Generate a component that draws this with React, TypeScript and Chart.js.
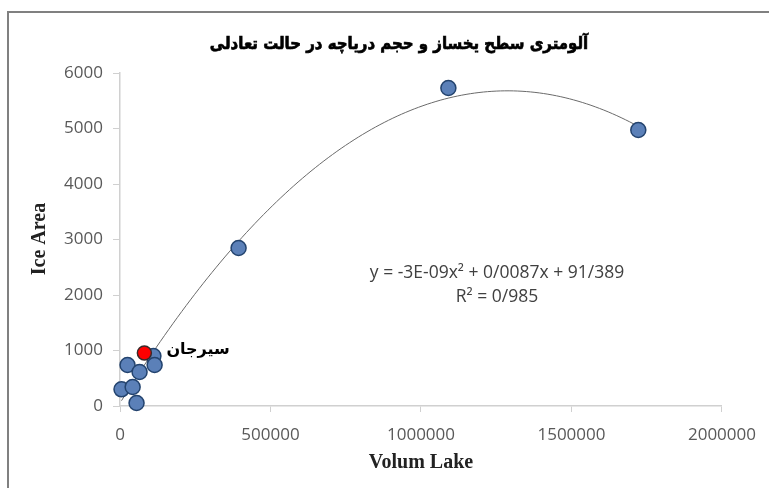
import React, { useEffect, useRef } from "react";
import { Chart, registerables } from "chart.js";

Chart.register(...registerables);

// Lake volume (x) and glacier ice area (y) for the surveyed basins
const lakeVolume = [5000, 25000, 42000, 55000, 65000, 111000, 115000, 394000, 1091000, 1722000];
const iceArea = [300, 739, 342, 54, 613, 900, 739, 2847, 5730, 4973];

// Highlighted basin: Sirjan
const sirjanVolume = [81000];
const sirjanArea = [955];
const sirjanLabel = "سیرجان";

const chartTitle = "آلومتری سطح یخساز و حجم دریاچه در حالت تعادلی";
const xTitle = "Volum Lake";
const yTitle = "Ice Area";
const equationLines = ["y = -3E-09x² + 0/0087x + 91/389", "R² = 0/985"];

const xTicks = [0, 500000, 1000000, 1500000, 2000000];
const yTicks = [0, 1000, 2000, 3000, 4000, 5000, 6000];

// Least-squares quadratic through all points (x in millions for stability)
function fitQuadratic(xs: number[], ys: number[]) {
  const s = [0, 0, 0, 0, 0];
  const t = [0, 0, 0];
  xs.forEach((xv, i) => {
    const x = xv / 1e6;
    let p = 1;
    for (let k = 0; k < 5; k++) {
      s[k] += p;
      if (k < 3) t[k] += p * ys[i];
      p *= x;
    }
  });
  const m = [
    [s[0], s[1], s[2], t[0]],
    [s[1], s[2], s[3], t[1]],
    [s[2], s[3], s[4], t[2]],
  ];
  for (let c = 0; c < 3; c++) {
    for (let r = c + 1; r < 3; r++) {
      const f = m[r][c] / m[c][c];
      for (let k = c; k < 4; k++) m[r][k] -= f * m[c][k];
    }
  }
  const sol = [0, 0, 0];
  for (let r = 2; r >= 0; r--) {
    let v = m[r][3];
    for (let k = r + 1; k < 3; k++) v -= m[r][k] * sol[k];
    sol[r] = v / m[r][r];
  }
  return (xv: number) => {
    const x = xv / 1e6;
    return sol[0] + sol[1] * x + sol[2] * x * x;
  };
}

const allX = [...lakeVolume, ...sirjanVolume];
const allY = [...iceArea, ...sirjanArea];
const trend = fitQuadratic(allX, allY);
const xMin = Math.min(...allX);
const xMax = Math.max(...allX);
const trendPoints = Array.from({ length: 121 }, (_, i) => {
  const x = xMin + ((xMax - xMin) * i) / 120;
  return { x, y: trend(x) };
});

const tickFont = { family: "'Open Sans', Lato, sans-serif", size: 17 };
const tickColor = "#595959";
const axisColor = "#d0d0d0";

const annotations = {
  id: "annotations",
  afterDraw(chart: any) {
    const { ctx, scales } = chart;
    ctx.save();
    // chart title: heavy, slightly condensed
    ctx.fillStyle = "#000";
    ctx.strokeStyle = "#000";
    ctx.lineWidth = 0.7;
    ctx.textAlign = "center";
    ctx.textBaseline = "middle";
    ctx.save();
    ctx.translate(399, 45);
    ctx.scale(0.88, 1);
    ctx.font = "bold 17px 'DejaVu Sans', sans-serif";
    ctx.fillText(chartTitle, 0, 0);
    ctx.strokeText(chartTitle, 0, 0);
    ctx.restore();

    // axis titles
    ctx.font = "bold 20px 'Liberation Serif', 'Times New Roman', serif";
    ctx.fillStyle = "#222";
    ctx.fillText(xTitle, 421, 463);
    ctx.save();
    ctx.translate(40, 239);
    ctx.rotate(-Math.PI / 2);
    ctx.fillText(yTitle, 0, 0);
    ctx.restore();

    // trendline equation
    ctx.font = "17.5px 'Open Sans', Lato, sans-serif";
    ctx.fillStyle = "#404040";
    ctx.fillText(equationLines[0], 497, 273);
    ctx.fillText(equationLines[1], 497, 297);

    // Sirjan label beside its point
    const px = scales.x.getPixelForValue(sirjanVolume[0]);
    const py = scales.y.getPixelForValue(sirjanArea[0]);
    ctx.font = "bold 16px 'DejaVu Sans', sans-serif";
    ctx.fillStyle = "#000";
    ctx.textAlign = "left";
    ctx.fillText(sirjanLabel, px + 22, py - 3);
    ctx.restore();
  },
};

export default function App() {
  const ref = useRef<HTMLCanvasElement | null>(null);

  useEffect(() => {
    if (!ref.current) return;
    const chart = new Chart(ref.current, {
      type: "scatter",
      data: {
        datasets: [
          {
            label: sirjanLabel,
            data: sirjanVolume.map((x, i) => ({ x, y: sirjanArea[i] })),
            backgroundColor: "#ff0000",
            borderColor: "#3a2a2a",
            borderWidth: 1.5,
            pointRadius: 7,
            clip: false,
            order: 1,
          },
          {
            label: "Ice Area",
            data: lakeVolume.map((x, i) => ({ x, y: iceArea[i] })),
            backgroundColor: "#5b80b8",
            borderColor: "#23436e",
            borderWidth: 1.5,
            pointRadius: 7.5,
            clip: false,
            order: 2,
          },
          {
            label: "trend",
            type: "line" as any,
            data: trendPoints,
            borderColor: "#6a6a6a",
            borderWidth: 1,
            pointRadius: 0,
            showLine: true,
            fill: false,
            tension: 0,
            order: 3,
          },
        ],
      },
      options: {
        responsive: false,
        animation: false,
        layout: { padding: { left: 0, right: 47, top: 73, bottom: 0 } },
        plugins: {
          legend: { display: false },
          tooltip: { enabled: false },
          title: { display: false },
        },
        scales: {
          x: {
            type: "linear",
            min: 0,
            max: 2000000,
            afterBuildTicks: (s: any) => {
              s.ticks = xTicks.map((v) => ({ value: v }));
            },
            afterFit: (s: any) => {
              s.height = 82;
            },
            ticks: {
              font: tickFont,
              color: tickColor,
              padding: 13,
              callback: (v: any) => String(v),
            },
            grid: { drawOnChartArea: false, drawTicks: true, tickLength: 6, color: axisColor },
            border: { color: axisColor, width: 1.5 },
          },
          y: {
            type: "linear",
            min: 0,
            max: 6000,
            afterBuildTicks: (s: any) => {
              s.ticks = yTicks.map((v) => ({ value: v }));
            },
            afterFit: (s: any) => {
              s.width = 120;
            },
            ticks: {
              font: tickFont,
              color: tickColor,
              padding: 10,
              callback: (v: any) => String(v),
            },
            grid: { drawOnChartArea: false, drawTicks: true, tickLength: 7, color: axisColor },
            border: { color: axisColor, width: 1.5 },
          },
        },
      },
      plugins: [annotations],
    });
    return () => chart.destroy();
  }, []);

  return (
    <div
      style={{
        position: "fixed",
        left: 0,
        top: 0,
        width: 769,
        height: 488,
        background: "#fff",
        overflow: "hidden",
      }}
    >
      <div
        style={{
          position: "absolute",
          left: 7,
          top: 11,
          width: 800,
          height: 520,
          border: "2px solid #808080",
        }}
      />
      <canvas
        ref={ref}
        width={769}
        height={488}
        style={{ position: "absolute", left: 0, top: 0 }}
      />
    </div>
  );
}
